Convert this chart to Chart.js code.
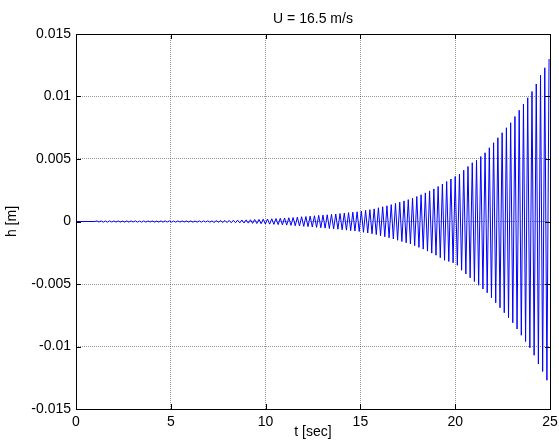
<!DOCTYPE html>
<html>
<head>
<meta charset="utf-8">
<title>U = 16.5 m/s</title>
<script src="https://cdn.jsdelivr.net/npm/chart.js@4.4.0/dist/chart.umd.min.js"></script>
<style>
  html, body { margin: 0; padding: 0; background: #fff; }
</style>
</head>
<body>
<canvas id="chart" width="559" height="448"></canvas>
<script>
// ====== dados ======
const chartTitle = 'U = 16.5 m/s';
const xTicks = [0, 5, 10, 15, 20, 25];
const yTicks = [-0.015, -0.01, -0.005, 0, 0.005, 0.01, 0.015];

// trecho parado antes da oscilação começar
const restTimes = [0, 1.0];
const restValues = [0, 0];

// picos e vales sucessivos (um a cada meio período)
const firstPeakTime = 1.1;
const peakStep = 0.1125;
const peaks = [
  // t ~ 1.1 - 7.2 : ruído bem pequeno
  0.00005, -0.00004, 0.00005, -0.00005, 0.00004, -0.00005, 0.00005, -0.00004, 0.00005, -0.00005,
  0.00005, -0.00005, 0.00004, -0.00005, 0.00005, -0.00005, 0.00005, -0.00004, 0.00005, -0.00005,
  0.00004, -0.00005, 0.00005, -0.00005, 0.00005, -0.00004, 0.00005, -0.00005, 0.00004, -0.00005,
  0.00005, -0.00005, 0.00005, -0.00004, 0.00005, -0.00005, 0.00004, -0.00005, 0.00005, -0.00005,
  0.00005, -0.00004, 0.00005, -0.00005, 0.00005, -0.00005, 0.00004, -0.00005, 0.00005, -0.00005,
  0.00005, -0.00004, 0.00005, -0.00005, 0.00005,
  // t ~ 7.3 - 8
  -0.00008, 0.00008, -0.00007, 0.00008, -0.00008, 0.00009, -0.00009,
  // t ~ 8 - 9
  0.00009, -0.0001, 0.0001, -0.0001, 0.00011, -0.00011, 0.00012, -0.00012, 0.00013,
  // t ~ 9 - 10
  -0.00013, 0.00014, -0.00015, 0.00016, -0.00016, 0.00017, -0.00018, 0.00019, -0.0002,
  // t ~ 10 - 11
  0.0002, -0.00021, 0.00022, -0.00023, 0.00024, -0.00025, 0.00026, -0.00027, 0.00028,
  // t ~ 11 - 12
  -0.00029, 0.0003, -0.00031, 0.00032, -0.00034, 0.00035, -0.00036, 0.00038,
  // t ~ 12 - 13
  -0.00039, 0.0004, -0.00041, 0.00043, -0.00044, 0.00046, -0.00047, 0.00049, -0.0005,
  // t ~ 13 - 14
  0.00051, -0.00053, 0.00054, -0.00056, 0.00057, -0.00059, 0.0006, -0.00062, 0.00064,
  // t ~ 14 - 15
  -0.00066, 0.00067, -0.00069, 0.00071, -0.00073, 0.00075, -0.00076, 0.00078, -0.0008,
  // t ~ 15 - 16
  0.00083, -0.00086, 0.00089, -0.00092, 0.00095, -0.00098, 0.00101, -0.00105, 0.0011,
  // t ~ 16 - 17
  -0.00114, 0.00118, -0.00122, 0.00126, -0.0013, 0.00135, -0.0014, 0.00145, -0.0015,
  // t ~ 17 - 18
  0.00155, -0.0016, 0.00165, -0.0017, 0.00175, -0.0018, 0.00186, -0.00193, 0.002,
  // t ~ 18 - 19
  -0.00207, 0.00214, -0.00221, 0.00229, -0.00237, 0.00245, -0.00253, 0.00261, -0.0027,
  // t ~ 19 - 20
  0.0028, -0.0029, 0.003, -0.0031, 0.0032, -0.0032, 0.0034, -0.0033, 0.0036,
  // t ~ 20 - 21
  -0.0035, 0.0038, -0.0039, 0.0041, -0.0042, 0.0044, -0.0045, 0.0047,
  // t ~ 21 - 22
  -0.0048, 0.0049, -0.0051, 0.0052, -0.0054, 0.0055, -0.0057, 0.0059, -0.0061,
  // t ~ 22 - 23
  0.0063, -0.0065, 0.0067, -0.0069, 0.0071, -0.0073, 0.0075, -0.0077, 0.0079,
  // t ~ 23 - 24
  -0.0081, 0.0084, -0.0086, 0.0089, -0.0091, 0.0094, -0.0096, 0.0099, -0.0101,
  // t ~ 24 - 25
  0.0104, -0.0107, 0.011, -0.0114, 0.0117, -0.012, 0.0123, -0.0127, 0.013
];

// ====== montagem dos pontos ======
const points = restTimes.map((t, i) => ({ x: t, y: restValues[i] }));
peaks.forEach((v, i) => points.push({ x: firstPeakTime + i * peakStep, y: v }));

const FONT = 'Liberation Sans, Arial, sans-serif';

// caixa preta + ticks para dentro, estilo MATLAB
const boxPlugin = {
  id: 'box',
  afterDraw(chart) {
    const { ctx, chartArea: a, scales } = chart;
    ctx.save();
    ctx.strokeStyle = '#000';
    ctx.lineWidth = 1;
    ctx.beginPath();
    xTicks.forEach(v => {
      const px = Math.round(scales.x.getPixelForValue(v)) + 0.5;
      ctx.moveTo(px, a.bottom); ctx.lineTo(px, a.bottom - 5);
      ctx.moveTo(px, a.top); ctx.lineTo(px, a.top + 5);
    });
    yTicks.forEach(v => {
      const py = Math.round(scales.y.getPixelForValue(v)) + 0.5;
      ctx.moveTo(a.left, py); ctx.lineTo(a.left + 5, py);
      ctx.moveTo(a.right, py); ctx.lineTo(a.right - 5, py);
    });
    ctx.stroke();
    ctx.strokeRect(Math.round(a.left) + 0.5, Math.round(a.top) + 0.5,
      Math.round(a.right - a.left), Math.round(a.bottom - a.top));

    // título
    ctx.fillStyle = '#000';
    ctx.font = '14px ' + FONT;
    ctx.textAlign = 'center';
    ctx.textBaseline = 'alphabetic';
    ctx.fillText(chartTitle, (a.left + a.right) / 2, 23);
    ctx.restore();
  }
};

new Chart(document.getElementById('chart'), {
  type: 'line',
  data: {
    datasets: [{
      data: points,
      borderColor: '#0000ff',
      borderWidth: 1,
      pointRadius: 0,
      tension: 0,
      fill: false
    }]
  },
  options: {
    responsive: false,
    animation: false,
    layout: { padding: { top: 34, right: 9, left: 0, bottom: 0 } },
    plugins: { legend: { display: false }, tooltip: { enabled: false } },
    scales: {
      x: {
        type: 'linear',
        min: 0, max: 25,
        afterFit: s => { s.height = 39; s.paddingLeft = 0; s.paddingRight = 0; },
        afterBuildTicks: s => { s.ticks = xTicks.map(v => ({ value: v })); },
        ticks: { color: '#000', padding: 5, maxRotation: 0, font: { family: FONT, size: 14 } },
        grid: { color: 'rgba(0,0,0,0.4)', drawTicks: false },
        border: { display: false, dash: [1, 1] },
        title: { display: true, text: 't [sec]', color: '#000', padding: { top: 0, bottom: 7 }, font: { family: FONT, size: 14 } }
      },
      y: {
        min: -0.015, max: 0.015,
        afterFit: s => { s.width = 76; s.paddingTop = 0; s.paddingBottom = 0; },
        afterBuildTicks: s => { s.ticks = yTicks.map(v => ({ value: v })); },
        ticks: {
          color: '#000', padding: 5, font: { family: FONT, size: 14 },
          callback: v => String(Number(v.toFixed(3)))
        },
        grid: { color: 'rgba(0,0,0,0.4)', drawTicks: false },
        border: { display: false, dash: [1, 1] },
        title: { display: true, text: 'h [m]', color: '#000', padding: { top: 4, bottom: 0 }, font: { family: FONT, size: 14 } }
      }
    }
  },
  plugins: [boxPlugin]
});
</script>
</body>
</html>
